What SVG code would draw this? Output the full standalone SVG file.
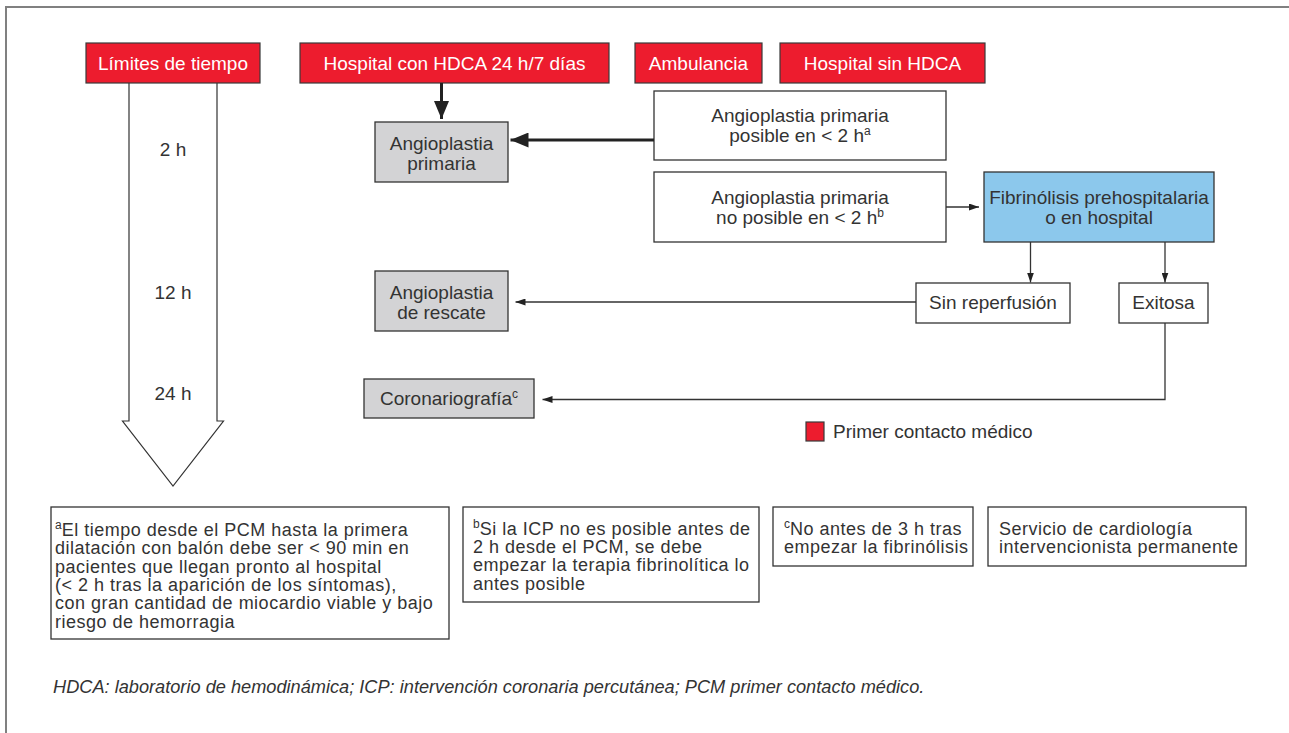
<svg xmlns="http://www.w3.org/2000/svg" width="1289" height="733" viewBox="0 0 1289 733">
<style>
text{font-family:"Liberation Sans",Arial,Helvetica,sans-serif;fill:#333333}
.red{fill:#ed1c2e;stroke:#3a3a3a;stroke-width:1.2}
.redt{fill:#ffffff;font-size:19px;text-anchor:middle}
.box{fill:#ffffff;stroke:#333333;stroke-width:1.3}
.gray{fill:#d3d3d5;stroke:#333333;stroke-width:1.3}
.blue{fill:#8cc8ec;stroke:#333333;stroke-width:1.3}
.lbl{font-size:19px;text-anchor:middle}
.leg{font-size:19px}
.fn{font-size:18px;letter-spacing:0.5px}
.sup{font-size:12px;letter-spacing:0}
.con{fill:none;stroke:#333333;stroke-width:1.3}
.thick{fill:none;stroke:#222222;stroke-width:3}
.cap{font-size:18.2px;font-style:italic}
</style>
<defs>
<marker id="arr" markerUnits="userSpaceOnUse" markerWidth="10" markerHeight="7" refX="10" refY="3.5" orient="auto"><path d="M0,0 L10,3.5 L0,7 z" fill="#222222"/></marker>
<marker id="arrBig" markerUnits="userSpaceOnUse" markerWidth="18" markerHeight="15" refX="18" refY="7.5" orient="auto"><path d="M0,0 L18,7.5 L0,15 z" fill="#222222"/></marker>
</defs>
<rect width="1289" height="733" fill="#ffffff"/>
<path d="M6,740 V7 H1300" fill="none" stroke="#808080" stroke-width="2"/>

<g id="time-arrow">
<path d="M129,83 V421 H122.5 L173,486 L223.5,421 H217 V83" fill="#ffffff" stroke="#333333" stroke-width="1.2"/>
<text class="lbl" x="173" y="156">2 h</text>
<text class="lbl" x="173" y="299">12 h</text>
<text class="lbl" x="173" y="400">24 h</text>
</g>

<g id="limites"><rect class="red" x="86" y="43" width="174" height="40"/><text class="redt" x="173" y="70">Límites de tiempo</text></g>
<g id="hospital-con"><rect class="red" x="300" y="43" width="309" height="40"/><text class="redt" x="454.5" y="70">Hospital con HDCA 24 h/7 días</text></g>
<g id="ambulancia"><rect class="red" x="635" y="43" width="127" height="40"/><text class="redt" x="698.5" y="70">Ambulancia</text></g>
<g id="hospital-sin"><rect class="red" x="780" y="43" width="205" height="40"/><text class="redt" x="882.5" y="70">Hospital sin HDCA</text></g>

<g id="angio-primaria"><rect class="gray" x="375" y="122" width="133" height="60"/><text class="lbl" x="441.5" y="150">Angioplastia<tspan x="441.5" dy="20">primaria</tspan></text></g>
<g id="angio-rescate"><rect class="gray" x="375" y="271" width="133" height="60"/><text class="lbl" x="441.5" y="299">Angioplastia<tspan x="441.5" dy="20">de rescate</tspan></text></g>
<g id="coronario"><rect class="gray" x="364" y="379" width="170" height="39"/><text class="lbl" x="449" y="405">Coronariografía<tspan class="sup" dy="-7">c</tspan></text></g>

<g id="posible"><rect class="box" x="654" y="91" width="292" height="69"/><text class="lbl" x="800" y="122">Angioplastia primaria<tspan x="800" dy="20">posible en &lt; 2 h</tspan><tspan class="sup" dy="-7">a</tspan></text></g>
<g id="no-posible"><rect class="box" x="654" y="172" width="292" height="70"/><text class="lbl" x="800" y="204">Angioplastia primaria<tspan x="800" dy="20">no posible en &lt; 2 h</tspan><tspan class="sup" dy="-7">b</tspan></text></g>
<g id="fibrinolisis"><rect class="blue" x="984" y="172" width="230" height="70"/><text class="lbl" x="1099" y="204">Fibrinólisis prehospitalaria<tspan x="1099" dy="20">o en hospital</tspan></text></g>
<g id="sin-reperfusion"><rect class="box" x="916" y="283" width="154" height="40"/><text class="lbl" x="993" y="309">Sin reperfusión</text></g>
<g id="exitosa"><rect class="box" x="1119" y="283" width="89" height="40"/><text class="lbl" x="1163.5" y="309">Exitosa</text></g>

<g id="connectors">
<line class="thick" x1="441.5" y1="83" x2="441.5" y2="119" marker-end="url(#arrBig)"/>
<line class="thick" x1="654" y1="140" x2="510.5" y2="140" marker-end="url(#arrBig)"/>
<line class="con" x1="946" y1="207" x2="979" y2="207" marker-end="url(#arr)"/>
<line class="con" x1="1030.5" y1="242" x2="1030.5" y2="282.5" marker-end="url(#arr)"/>
<line class="con" x1="1165" y1="242" x2="1165" y2="282.5" marker-end="url(#arr)"/>
<line class="con" x1="916" y1="302" x2="515.5" y2="302" marker-end="url(#arr)"/>
<polyline class="con" points="1165,323 1165,399.5 542.5,399.5" marker-end="url(#arr)"/>
</g>

<g id="legend"><rect class="red" x="806" y="422" width="18" height="19"/><text class="leg" x="833" y="438">Primer contacto médico</text></g>

<g id="note-a"><rect class="box" x="51" y="507" width="398" height="132"/>
<text class="fn" x="55" y="536"><tspan class="sup" dy="-7">a</tspan><tspan dy="7">El tiempo desde el PCM hasta la primera</tspan><tspan x="55" dy="18.35">dilatación con balón debe ser &lt; 90 min en</tspan><tspan x="55" dy="18.35">pacientes que llegan pronto al hospital</tspan><tspan x="55" dy="18.35">(&lt; 2 h tras la aparición de los síntomas),</tspan><tspan x="55" dy="18.35">con gran cantidad de miocardio viable y bajo</tspan><tspan x="55" dy="18.35">riesgo de hemorragia</tspan></text>
</g>
<g id="note-b"><rect class="box" x="463" y="507" width="296" height="95"/>
<text class="fn" x="473" y="534.5"><tspan class="sup" dy="-7">b</tspan><tspan dy="7">Si la ICP no es posible antes de</tspan><tspan x="473" dy="18.35">2 h desde el PCM, se debe</tspan><tspan x="473" dy="18.35">empezar la terapia fibrinolítica lo</tspan><tspan x="473" dy="18.35">antes posible</tspan></text>
</g>
<g id="note-c"><rect class="box" x="773" y="507" width="200" height="59"/>
<text class="fn" x="784" y="534.5"><tspan class="sup" dy="-7">c</tspan><tspan dy="7">No antes de 3 h tras</tspan><tspan x="784" dy="18.35">empezar la fibrinólisis</tspan></text>
</g>
<g id="note-servicio"><rect class="box" x="988" y="507" width="258" height="59"/>
<text class="fn" x="999" y="534.5">Servicio de cardiología<tspan x="999" dy="18.35">intervencionista permanente</tspan></text>
</g>

<text class="cap" x="53" y="693">HDCA: laboratorio de hemodinámica; ICP: intervención coronaria percutánea; PCM primer contacto médico.</text>
</svg>
